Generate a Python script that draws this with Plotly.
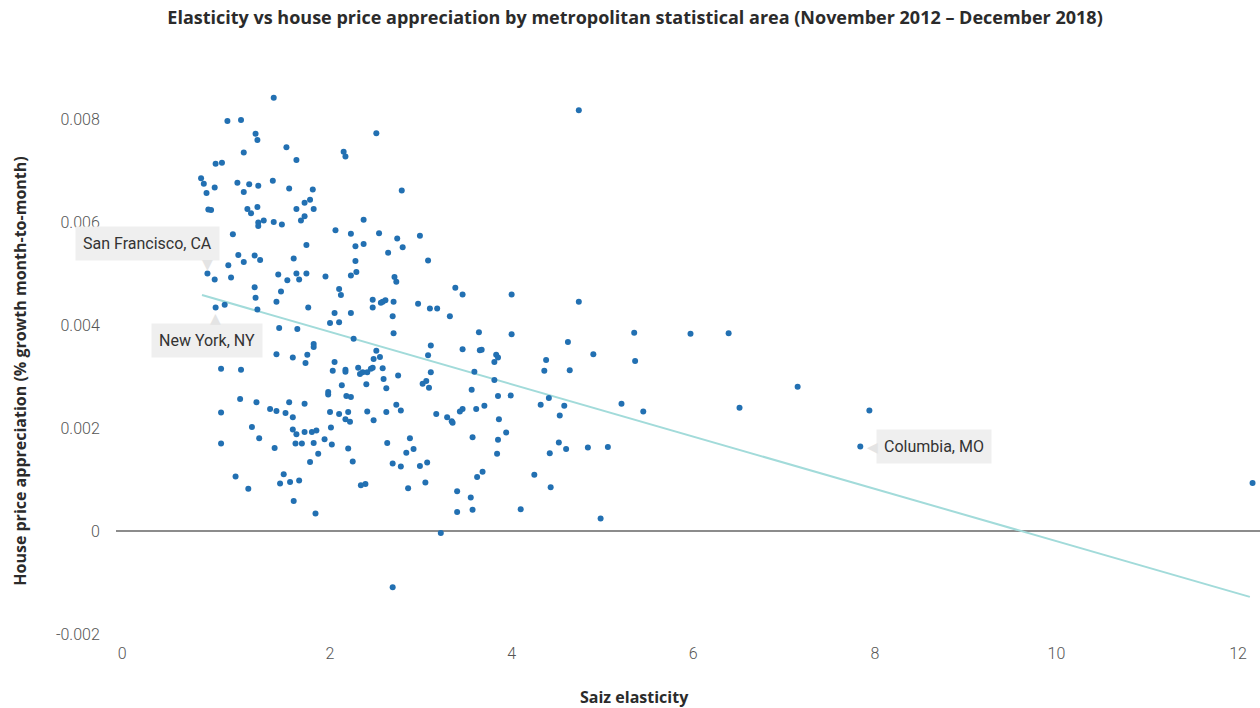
import plotly.graph_objects as go

# Saiz elasticity (x) and house price appreciation (y), one entry per metro area
saiz_elasticity = [
    1.38, 0.87, 1.02, 1.18, 1.20, 2.51, 1.52, 1.05, 2.15, 2.17, 1.63, 0.74, 0.81, 0.58, 0.61, 0.73,
    0.64, 0.98, 1.11, 1.21, 1.05, 1.37, 1.55, 1.81, 2.79, 1.78, 1.72, 1.63, 1.82, 1.72, 1.68, 0.66,
    0.69, 1.09, 1.13, 1.20, 1.21, 1.21, 1.27, 1.38, 1.47, 2.37, 2.06, 2.23, 2.54, 2.74, 2.80, 2.64,
    2.28, 2.37, 0.93, 1.74, 1.60, 0.99, 1.05, 1.17, 1.23, 0.88, 0.65, 0.73, 0.91, 1.43, 1.53, 1.63,
    1.66, 1.74, 1.95, 2.28, 2.23, 2.29, 2.71, 2.73, 1.17, 1.46, 2.10, 2.12, 1.18, 1.41, 2.47, 2.56,
    2.58, 2.61, 2.70, 2.47, 0.74, 0.84, 1.20, 1.76, 2.05, 2.23, 2.00, 2.10, 2.69, 1.44, 1.64, 2.70,
    2.26, 1.82, 1.82, 1.41, 1.59, 1.75, 1.73, 2.05, 2.03, 2.17, 2.17, 2.31, 2.33, 2.36, 2.41, 2.45,
    2.47, 2.51, 2.48, 2.55, 2.58, 2.59, 2.62, 2.75, 2.40, 2.13, 1.98, 1.98, 2.18, 2.23, 0.80, 1.02,
    1.01, 1.19, 1.55, 1.72, 0.80, 1.34, 1.41, 1.51, 1.59, 2.00, 2.10, 2.20, 2.41, 2.62, 2.73, 2.78,
    2.17, 2.22, 2.48, 1.14, 1.59, 1.63, 1.72, 1.80, 1.85, 2.01, 1.22, 0.80, 1.62, 1.69, 1.82, 1.94,
    2.02, 1.39, 2.20, 2.63, 2.88, 2.92, 2.84, 1.87, 1.78, 2.25, 2.69, 2.78, 0.96, 1.49, 1.45, 1.56,
    1.66, 2.34, 2.39, 1.10, 2.86, 1.60, 1.84, 2.69,
    4.74, 2.99, 3.08, 3.38, 3.46, 4.00, 2.97, 3.10, 3.18, 3.32, 4.74, 3.64, 4.00, 5.35,
    3.11, 3.08, 3.46, 3.65, 3.67, 3.83, 3.85, 3.81, 4.62, 4.90, 4.38, 4.36, 4.64, 5.36, 3.11, 3.59,
    3.02, 3.06, 3.09, 3.81, 3.56, 3.85, 3.99, 4.41, 4.32, 4.58, 5.21, 3.17, 3.29, 3.34, 3.35, 3.43,
    3.46, 3.61, 3.70, 3.86, 4.53, 3.57, 3.85, 3.94, 3.84, 4.52, 4.60, 4.42, 4.84, 5.06, 2.99, 3.07,
    3.05, 3.62, 3.68, 4.25, 4.43, 3.40, 3.55, 3.40, 3.57, 4.10, 4.98, 3.22,
    5.97, 6.39, 7.15, 5.45, 6.51, 7.94, 7.84, 12.16,
]
price_growth = [
    0.00841, 0.00796, 0.00798, 0.00771, 0.00759, 0.00772, 0.00745, 0.00735, 0.00736, 0.00727, 0.00720, 0.00713,
    0.00715, 0.00685, 0.00674, 0.00667, 0.00656, 0.00676, 0.00673, 0.00670, 0.00658, 0.00680, 0.00665, 0.00663,
    0.00661, 0.00643, 0.00637, 0.00625, 0.00625, 0.00611, 0.00603, 0.00624, 0.00623, 0.00625, 0.00617, 0.00629,
    0.00599, 0.00592, 0.00603, 0.00600, 0.00595, 0.00604, 0.00584, 0.00577, 0.00578, 0.00568, 0.00551, 0.00540,
    0.00553, 0.00557, 0.00576, 0.00555, 0.00529, 0.00536, 0.00522, 0.00535, 0.00526, 0.00516, 0.00500, 0.00488,
    0.00492, 0.00498, 0.00487, 0.00500, 0.00488, 0.00500, 0.00494, 0.00524, 0.00496, 0.00503, 0.00493, 0.00484,
    0.00473, 0.00465, 0.00470, 0.00458, 0.00453, 0.00445, 0.00449, 0.00443, 0.00445, 0.00448, 0.00445, 0.00434,
    0.00434, 0.00439, 0.00430, 0.00434, 0.00423, 0.00423, 0.00404, 0.00405, 0.00417, 0.00394, 0.00392, 0.00384,
    0.00373, 0.00363, 0.00357, 0.00343, 0.00337, 0.00342, 0.00326, 0.00328, 0.00311, 0.00313, 0.00309, 0.00317,
    0.00305, 0.00308, 0.00308, 0.00315, 0.00317, 0.00350, 0.00334, 0.00338, 0.00316, 0.00295, 0.00277, 0.00302,
    0.00285, 0.00283, 0.00270, 0.00265, 0.00262, 0.00260, 0.00315, 0.00313, 0.00256, 0.00250, 0.00250, 0.00247,
    0.00230, 0.00237, 0.00233, 0.00229, 0.00221, 0.00231, 0.00227, 0.00231, 0.00232, 0.00231, 0.00245, 0.00234,
    0.00217, 0.00212, 0.00215, 0.00202, 0.00197, 0.00188, 0.00192, 0.00192, 0.00195, 0.00201, 0.00180, 0.00170,
    0.00170, 0.00170, 0.00171, 0.00178, 0.00168, 0.00161, 0.00160, 0.00171, 0.00180, 0.00159, 0.00152, 0.00150,
    0.00134, 0.00135, 0.00131, 0.00125, 0.00106, 0.00110, 0.00092, 0.00095, 0.00098, 0.00089, 0.00091, 0.00082,
    0.00083, 0.00058, 0.00034, -0.00109,
    0.00817, 0.00573, 0.00525, 0.00472, 0.00459, 0.00459, 0.00441, 0.00432, 0.00432, 0.00417, 0.00445, 0.00386,
    0.00382, 0.00385,
    0.00360, 0.00341, 0.00353, 0.00351, 0.00352, 0.00342, 0.00337, 0.00328, 0.00367, 0.00343, 0.00332, 0.00311,
    0.00312, 0.00330, 0.00308, 0.00309, 0.00286, 0.00291, 0.00278, 0.00293, 0.00274, 0.00262, 0.00263, 0.00258,
    0.00245, 0.00243, 0.00247, 0.00227, 0.00221, 0.00213, 0.00210, 0.00232, 0.00237, 0.00237, 0.00243, 0.00217,
    0.00224, 0.00182, 0.00177, 0.00191, 0.00150, 0.00172, 0.00159, 0.00151, 0.00162, 0.00163, 0.00126, 0.00133,
    0.00094, 0.00105, 0.00115, 0.00109, 0.00085, 0.00077, 0.00065, 0.00037, 0.00041, 0.00042, 0.00024, -0.00004,
    0.00383, 0.00384, 0.00280, 0.00232, 0.00239, 0.00234, 0.00164, 0.00093,
]
assert len(saiz_elasticity) == len(price_growth)

# fitted line at both ends
trend_x = [0.59, 12.13]
trend_y = [0.00458, -0.00128]

callout_names = ['San Francisco, CA', 'New York, NY', 'Columbia, MO']
callout_x = [0.65, 0.74, 7.84]
callout_y = [0.00500, 0.00434, 0.00164]

x_tick_vals = [-0.29, 2, 4, 6, 8, 10, 12]
x_tick_text = ['0', '2', '4', '6', '8', '10', '12']
y_tick_vals = [-0.002, 0, 0.002, 0.004, 0.006, 0.008]
y_tick_text = ['-0.002', '0', '0.002', '0.004', '0.006', '0.008']

FONT = 'Roboto, "Open Sans", sans-serif'
BOLD = '"Open Sans", Roboto, sans-serif'
BOX = '#efefef'

fig = go.Figure()

fig.add_trace(go.Scatter(
    x=trend_x, y=trend_y, mode='lines',
    line=dict(color='#a2dbda', width=2),
    hoverinfo='skip'
))

fig.add_trace(go.Scatter(
    x=saiz_elasticity, y=price_growth, mode='markers',
    marker=dict(color='#2270b2', size=6),
    hovertemplate='Elasticity: %{x}<br>Growth: %{y}<extra></extra>'
))

annotations = []

# callout boxes (anchor offsets in pixels from the labelled point)
box_style = [
    dict(xanchor='right', yanchor='bottom', xshift=13, yshift=12),
    dict(xanchor='center', yanchor='top', xshift=-9, yshift=-16),
    dict(xanchor='left', yanchor='middle', xshift=16, yshift=0),
]
pointer_style = [
    dict(text='▼', xshift=0, yshift=9),
    dict(text='▲', xshift=0, yshift=-11),
    dict(text='◀', xshift=12, yshift=0),
]
for name, cx, cy, bs, ps in zip(callout_names, callout_x, callout_y, box_style, pointer_style):
    annotations.append(dict(
        x=cx, y=cy, xref='x', yref='y', text=name, showarrow=False,
        bgcolor=BOX, borderpad=7,
        font=dict(family=FONT, size=16, color='#333333'), **bs
    ))
    annotations.append(dict(
        x=cx, y=cy, xref='x', yref='y', showarrow=False,
        xanchor='center', yanchor='middle',
        font=dict(family='DejaVu Sans', size=14, color='#e4e4e4'), **ps
    ))

# axis titles
annotations.append(dict(
    text='Saiz elasticity', xref='paper', yref='paper', x=0.453, y=-0.115,
    xanchor='center', yanchor='middle', showarrow=False,
    font=dict(family=BOLD, size=16, color='#2b2b2b', weight='bold')
))
annotations.append(dict(
    text='House price appreciation (% growth month-to-month)', textangle=-90,
    xref='paper', yref='paper', x=-0.084, y=0.482,
    xanchor='center', yanchor='middle', showarrow=False,
    font=dict(family=BOLD, size=16, color='#2b2b2b', weight='bold')
))

fig.update_layout(
    width=1260, height=708,
    margin=dict(l=116, r=0, t=88, b=74),
    plot_bgcolor='white', paper_bgcolor='white',
    showlegend=False,
    font=dict(family=FONT, color='#555555'),
    title=dict(
        text='Elasticity vs house price appreciation by metropolitan statistical area (November 2012 – December 2018)',
        xref='container', x=0.504, xanchor='center',
        yref='container', y=1 - 18 / 708, yanchor='middle',
        font=dict(family=BOLD, size=18, color='#2b2b2b', weight='bold')
    ),
    annotations=annotations,
)

fig.update_xaxes(
    range=[-0.357, 12.242],
    tickvals=x_tick_vals, ticktext=x_tick_text,
    showgrid=False, zeroline=False, showline=False,
    ticks='outside', ticklen=5, tickcolor='rgba(0,0,0,0)',
    tickfont=dict(family=FONT, size=16, color='#555555', weight=300)
)
fig.update_yaxes(
    range=[-0.002, 0.0086],
    tickvals=y_tick_vals, ticktext=y_tick_text,
    showgrid=False, showline=False,
    zeroline=True, zerolinecolor='#8c8c8c', zerolinewidth=2,
    ticks='outside', ticklen=12, tickcolor='rgba(0,0,0,0)',
    tickfont=dict(family=FONT, size=16, color='#555555', weight=300)
)

# the default page adds an 8px body margin; drop it so the chart fills the window
fig.write_html(
    "out.html",
    config={'displayModeBar': False},
    post_script="document.body.style.margin='0';"
)
